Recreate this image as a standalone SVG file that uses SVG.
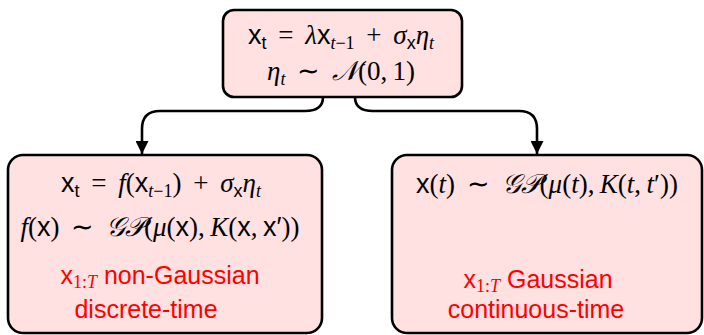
<svg xmlns="http://www.w3.org/2000/svg" width="704" height="335" viewBox="0 0 704 335">
<defs>
<style>
.box{fill:#ffe1e1;stroke:#000;stroke-width:2.6}
.edge{fill:none;stroke:#000;stroke-width:2.6}
text{font-family:"Liberation Serif",serif;font-size:27px;fill:#000}
.m{word-spacing:5px}
.sf{font-family:"Liberation Sans",sans-serif}
.it{font-style:italic}
.cal{font-family:"DejaVu Serif","Noto Sans",serif;font-style:italic}
.red{fill:#ff0000}
.lbl{font-family:"Liberation Sans",sans-serif;font-size:25px}
</style>
<marker id="ah" viewBox="0 0 10 10" refX="10" refY="5" markerWidth="5" markerHeight="5" orient="auto" markerUnits="strokeWidth">
<path d="M0,0 L10,5 L0,10 z" fill="#000"/>
</marker>
</defs>
<g id="connectors">
<path class="edge" d="M323,97 Q323,111 305,111 L160,111 Q142,111 142,129 L142,154" marker-end="url(#ah)"/>
<path class="edge" d="M355,97 Q355,111 373,111 L519,111 Q537,111 537,129 L537,154" marker-end="url(#ah)"/>
</g>
<g id="top">
<rect class="box" x="223" y="10" width="239" height="87" rx="11"/>
<text class="m" x="341" y="44" text-anchor="middle"><tspan class="sf">x</tspan><tspan class="sf" font-size="18" dy="5">t</tspan><tspan dy="-5"> = </tspan><tspan class="it">λ</tspan><tspan class="sf">x</tspan><tspan class="it" font-size="18" dy="5">t</tspan><tspan font-size="18">−1</tspan><tspan dy="-5"> + </tspan><tspan class="it">σ</tspan><tspan class="sf" font-size="18" dy="5">x</tspan><tspan class="it" dy="-5">η</tspan><tspan class="it" font-size="18" dy="5">t</tspan></text>
<text class="m" x="341" y="80" text-anchor="middle"><tspan class="it">η</tspan><tspan class="it" font-size="18" dy="5">t</tspan><tspan dy="-5"> ∼ </tspan><tspan class="cal">𝒩</tspan><tspan>(0,&#8201;1)</tspan></text>
</g>
<g id="left">
<rect class="box" x="8" y="155" width="314" height="178" rx="15"/>
<text class="m" x="161" y="192" text-anchor="middle"><tspan class="sf">x</tspan><tspan class="sf" font-size="18" dy="5">t</tspan><tspan dy="-5"> = </tspan><tspan class="it">f</tspan><tspan>(</tspan><tspan class="sf">x</tspan><tspan class="it" font-size="18" dy="5">t</tspan><tspan font-size="18">−1</tspan><tspan dy="-5">) + </tspan><tspan class="it">σ</tspan><tspan class="sf" font-size="18" dy="5">x</tspan><tspan class="it" dy="-5">η</tspan><tspan class="it" font-size="18" dy="5">t</tspan></text>
<text class="m" x="160" y="236" text-anchor="middle"><tspan class="it">f</tspan><tspan>(</tspan><tspan class="sf">x</tspan><tspan>) ∼ </tspan><tspan class="cal">𝒢𝒫</tspan><tspan>(</tspan><tspan class="it">μ</tspan><tspan>(</tspan><tspan class="sf">x</tspan><tspan>),&#8201;</tspan><tspan class="it">K</tspan><tspan>(</tspan><tspan class="sf">x</tspan><tspan>,&#8201;</tspan><tspan class="sf">x′</tspan><tspan>))</tspan></text>
<text class="red" x="160" y="284" text-anchor="middle"><tspan class="sf" font-size="25">x</tspan><tspan font-size="18" dy="4">1:</tspan><tspan class="it" font-size="18">T</tspan><tspan class="sf" font-size="25" dy="-4"> non-Gaussian</tspan></text>
<text class="red lbl" x="146" y="318" text-anchor="middle">discrete-time</text>
</g>
<g id="right">
<rect class="box" x="392" y="155" width="310" height="178" rx="15"/>
<text class="m" x="547" y="193" text-anchor="middle"><tspan class="sf">x</tspan><tspan>(</tspan><tspan class="it">t</tspan><tspan>) ∼ </tspan><tspan class="cal">𝒢𝒫</tspan><tspan>(</tspan><tspan class="it">μ</tspan><tspan>(</tspan><tspan class="it">t</tspan><tspan>),&#8201;</tspan><tspan class="it">K</tspan><tspan>(</tspan><tspan class="it">t</tspan><tspan>,&#8201;</tspan><tspan class="it">t</tspan><tspan>′))</tspan></text>
<text class="red" x="538" y="288" text-anchor="middle"><tspan class="sf" font-size="25">x</tspan><tspan font-size="18" dy="4">1:</tspan><tspan class="it" font-size="18">T</tspan><tspan class="sf" font-size="25" dy="-4"> Gaussian</tspan></text>
<text class="red lbl" x="536" y="318" text-anchor="middle">continuous-time</text>
</g>
</svg>
